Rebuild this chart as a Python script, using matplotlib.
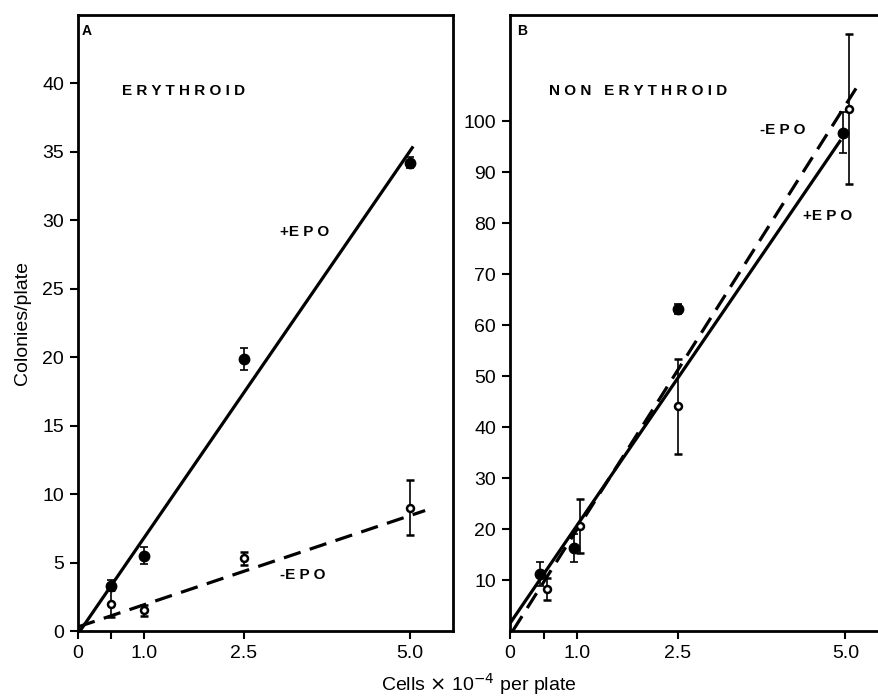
import numpy as np
import matplotlib.pyplot as plt

plt.rcParams['font.family'] = ['Liberation Sans', 'DejaVu Sans']

# Panell A: eritroides
a_plus_x = [0.5, 1.0, 2.5, 5.0]
a_plus_y = [3.3, 5.5, 19.9, 34.2]
a_plus_err = [0.4, 0.6, 0.8, 0.4]
a_minus_x = [0.5, 1.0, 2.5, 5.0]
a_minus_y = [2.0, 1.5, 5.3, 9.0]
a_minus_err = [1.0, 0.4, 0.5, 2.0]
a_fit_plus_x = [0.03, 5.05]
a_fit_plus_y = [0.0, 35.4]
a_fit_minus_x = [0.0, 5.23]
a_fit_minus_y = [0.3, 8.8]

# Panell B: no eritroides
b_plus_x = [0.45, 0.96, 2.5, 4.97]
b_plus_y = [11.2, 16.3, 63.1, 97.7]
b_plus_err = [2.3, 2.7, 1.0, 4.0]
b_minus_x = [0.55, 1.05, 2.5, 5.05]
b_minus_y = [8.2, 20.6, 44.1, 102.3]
b_minus_err = [2.2, 5.3, 9.3, 14.7]
b_fit_plus_x = [0.0, 4.93]
b_fit_plus_y = [1.5, 96.3]
b_fit_minus_x = [0.04, 5.22]
b_fit_minus_y = [0.0, 107.7]

xticks = [0, 0.5, 1.0, 2.5, 5.0]
xticklabels = ['0', '', '1.0', '2.5', '5.0']

W, H = 879, 698
fig = plt.figure(figsize=(W / 100, H / 100), dpi=100, facecolor='white')
axA = fig.add_axes([78 / W, 1 - 631 / H, (453 - 78) / W, (631 - 15) / H])
axB = fig.add_axes([510 / W, 1 - 631 / H, (879 - 510) / W, (631 - 15) / H])


def draw(ax, px, py, pe, mx, my, me, fpx, fpy, fmx, fmy):
    ax.plot(fpx, fpy, color='black', lw=2.3, solid_capstyle='butt')
    ax.plot(fmx, fmy, color='black', lw=2.3, ls=(0, (5.5, 3)))
    ax.errorbar(px, py, yerr=pe, fmt='o', color='black', ms=7.5, mfc='black',
                capsize=3, elinewidth=1.2, capthick=1.2, zorder=3)
    ax.errorbar(mx, my, yerr=me, fmt='o', color='black', ms=5, mfc='white',
                mew=1.8, capsize=3, elinewidth=1.2, capthick=1.2, zorder=3)
    ax.set_xticks(xticks)
    ax.set_xticklabels(xticklabels)
    ax.tick_params(direction='out', length=6, width=1.5, labelsize=14, pad=4)
    for s in ax.spines.values():
        s.set_linewidth(2)


draw(axA, a_plus_x, a_plus_y, a_plus_err, a_minus_x, a_minus_y, a_minus_err,
     a_fit_plus_x, a_fit_plus_y, a_fit_minus_x, a_fit_minus_y)
axA.set_xlim(0, 5.65)
axA.set_ylim(0, 45)
axA.set_yticks(np.arange(0, 41, 5))
axA.text(0.01, 0.985, 'A', transform=axA.transAxes, fontsize=10, fontweight='bold', va='top')
axA.text(0.117, 0.877, 'E R Y T H R O I D', transform=axA.transAxes, fontsize=11, fontweight='bold', va='center')
axA.text(0.54, 0.647, '+E P O', transform=axA.transAxes, fontsize=11, fontweight='bold', va='center')
axA.text(0.54, 0.091, '-E P O', transform=axA.transAxes, fontsize=11, fontweight='bold', va='center')
axA.set_ylabel('Colonies/plate', fontsize=14, labelpad=8)

draw(axB, b_plus_x, b_plus_y, b_plus_err, b_minus_x, b_minus_y, b_minus_err,
     b_fit_plus_x, b_fit_plus_y, b_fit_minus_x, b_fit_minus_y)
axB.set_xlim(0, 5.5)
axB.set_ylim(0, 120.8)
axB.set_yticks(np.arange(10, 101, 10))
axB.spines['right'].set_visible(False)
axB.text(0.02, 0.985, 'B', transform=axB.transAxes, fontsize=10, fontweight='bold', va='top')
axB.text(0.105, 0.877, 'N O N   E R Y T H R O I D', transform=axB.transAxes, fontsize=11, fontweight='bold', va='center')
axB.text(0.678, 0.813, '-E P O', transform=axB.transAxes, fontsize=11, fontweight='bold', va='center')
axB.text(0.795, 0.674, '+E P O', transform=axB.transAxes, fontsize=11, fontweight='bold', va='center')

fig.text(479 / W, 1 - 684 / H, r'Cells $\times$ 10$^{-4}$ per plate', fontsize=14,
         ha='center', va='center')

fig.savefig('out.png', dpi=100)
